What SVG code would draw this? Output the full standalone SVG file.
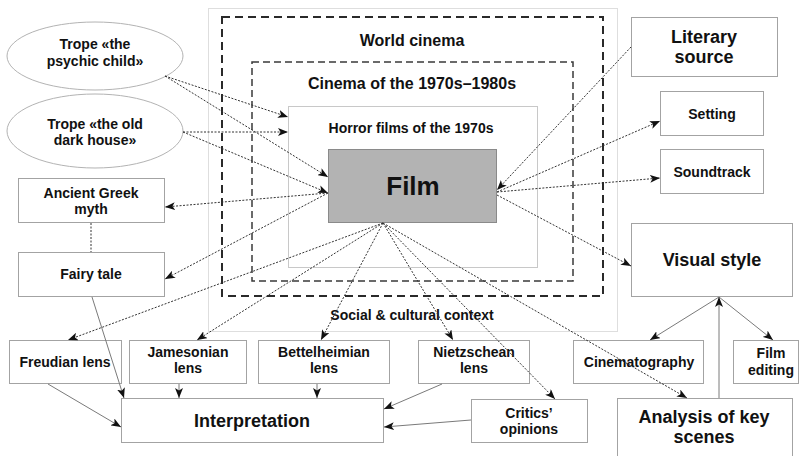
<svg xmlns="http://www.w3.org/2000/svg" width="805" height="456" viewBox="0 0 805 456">
<defs>
<marker id="ah" viewBox="0 0 10 8" refX="10" refY="4" markerWidth="10" markerHeight="8" markerUnits="userSpaceOnUse" orient="auto">
<path d="M0,0 L10,4 L0,8 L2.5,4 z" fill="#111"/>
</marker>
<style>
text{font-family:"Liberation Sans",Arial,sans-serif;font-weight:bold;fill:#111;text-anchor:middle}
.box{fill:#fff;stroke:#a3a3a3;stroke-width:1}
.ell{fill:#fff;stroke:#b3b3b3;stroke-width:1}
.dot{fill:none;stroke:#333;stroke-width:1;stroke-dasharray:2 1.5}
.sol{fill:none;stroke:#7a7a7a;stroke-width:1}
.arr{marker-end:url(#ah)}
.s14{font-size:14px}
.s16{font-size:16px}
.s18{font-size:18px}
</style>
</defs>
<rect width="805" height="456" fill="#fff"/>

<g id="social-context">
<rect x="208.5" y="8.5" width="409" height="323" fill="none" stroke="#bdbdbd" stroke-width="1" stroke-dasharray="1 1"/>
<text class="s14" x="412" y="320">Social &amp; cultural context</text>
</g>
<g id="world-cinema">
<rect x="222" y="17" width="381" height="279" fill="none" stroke="#2a2a2a" stroke-width="2" stroke-dasharray="8 5"/>
<text class="s16" x="412" y="46">World cinema</text>
</g>
<g id="cinema-1970s-1980s">
<rect x="252" y="62" width="321" height="219" fill="none" stroke="#3a3a3a" stroke-width="1.5" stroke-dasharray="7 4"/>
<text class="s16" x="412" y="89">Cinema of the 1970s–1980s</text>
</g>
<g id="horror-1970s">
<rect x="288.5" y="106.5" width="249" height="161" fill="none" stroke="#c8c8c8" stroke-width="1"/>
<text class="s14" x="411" y="133">Horror films of the 1970s</text>
</g>
<g id="film">
<rect x="328.5" y="149.5" width="168" height="73" fill="#b3b3b3" stroke="#8a8a8a" stroke-width="1"/>
<text x="413" y="195" style="font-size:26px">Film</text>
</g>

<g id="trope-psychic-child">
<ellipse class="ell" cx="95" cy="56" rx="88" ry="34"/>
<text class="s14" x="95" y="49">Trope «the</text>
<text class="s14" x="95" y="66">psychic child»</text>
</g>
<g id="trope-old-dark-house">
<ellipse class="ell" cx="95" cy="131" rx="88" ry="37"/>
<text class="s14" x="95" y="129">Trope «the old</text>
<text class="s14" x="95" y="145">dark house»</text>
</g>
<g id="ancient-greek-myth">
<rect class="box" x="18.5" y="178.5" width="146" height="44"/>
<text class="s14" x="91" y="198">Ancient Greek</text>
<text class="s14" x="91" y="214">myth</text>
</g>
<g id="fairy-tale">
<rect class="box" x="18.5" y="252.5" width="146" height="44"/>
<text class="s14" x="91" y="279">Fairy tale</text>
</g>
<g id="literary-source">
<rect class="box" x="631.5" y="17.5" width="146" height="59"/>
<text class="s18" x="704" y="43">Literary</text>
<text class="s18" x="704" y="63">source</text>
</g>
<g id="setting">
<rect class="box" x="660.5" y="91.5" width="103" height="44"/>
<text class="s14" x="712" y="119">Setting</text>
</g>
<g id="soundtrack">
<rect class="box" x="660.5" y="149.5" width="103" height="44"/>
<text class="s14" x="712" y="177">Soundtrack</text>
</g>
<g id="visual-style">
<rect class="box" x="631.5" y="223.5" width="161" height="73"/>
<text class="s18" x="712" y="266">Visual style</text>
</g>
<g id="cinematography">
<rect class="box" x="573.5" y="340.5" width="130" height="43"/>
<text class="s14" x="639" y="367">Cinematography</text>
</g>
<g id="film-editing">
<rect class="box" x="733.5" y="340.5" width="65" height="43"/>
<text class="s14" x="771" y="358">Film</text>
<text class="s14" x="771" y="375">editing</text>
</g>
<g id="analysis-key-scenes">
<rect class="box" x="617.5" y="398.5" width="175" height="70"/>
<text class="s18" x="704" y="423">Analysis of key</text>
<text class="s18" x="704" y="443">scenes</text>
</g>
<g id="freudian-lens">
<rect class="box" x="9.5" y="340.5" width="112" height="43"/>
<text class="s14" x="65" y="367">Freudian lens</text>
</g>
<g id="jamesonian-lens">
<rect class="box" x="129.5" y="340.5" width="117" height="43"/>
<text class="s14" x="188" y="357">Jamesonian</text>
<text class="s14" x="188" y="373">lens</text>
</g>
<g id="bettelheimian-lens">
<rect class="box" x="258.5" y="340.5" width="131" height="43"/>
<text class="s14" x="324" y="357">Bettelheimian</text>
<text class="s14" x="324" y="373">lens</text>
</g>
<g id="nietzschean-lens">
<rect class="box" x="418.5" y="340.5" width="111" height="43"/>
<text class="s14" x="474" y="357">Nietzschean</text>
<text class="s14" x="474" y="373">lens</text>
</g>
<g id="interpretation">
<rect class="box" x="121.5" y="398.5" width="262" height="44"/>
<text class="s18" x="252" y="427">Interpretation</text>
</g>
<g id="critics-opinions">
<rect class="box" x="471.5" y="399.5" width="116" height="43"/>
<text class="s14" x="529" y="418">Critics’</text>
<text class="s14" x="529" y="434">opinions</text>
</g>

<g id="connectors">
<line class="dot arr" x1="165" y1="76" x2="288" y2="117"/>
<line class="dot arr" x1="165" y1="76" x2="328" y2="177"/>
<line class="dot arr" x1="183" y1="132" x2="288" y2="132"/>
<line class="dot arr" x1="183" y1="132" x2="328" y2="193"/>
<line class="dot arr" x1="328" y1="193" x2="165" y2="207"/>
<line class="dot arr" x1="328" y1="193" x2="165" y2="279"/>
<line class="dot" x1="91" y1="223" x2="91" y2="252"/>
<line class="dot arr" x1="383" y1="223" x2="68" y2="340"/>
<line class="dot arr" x1="383" y1="223" x2="197" y2="340"/>
<line class="dot arr" x1="383" y1="223" x2="321" y2="340"/>
<line class="dot arr" x1="383" y1="223" x2="453" y2="340"/>
<line class="dot arr" x1="383" y1="223" x2="555" y2="399"/>
<line class="dot arr" x1="383" y1="223" x2="687" y2="398"/>
<line class="dot arr" x1="631" y1="47" x2="497" y2="190"/>
<line class="dot arr" x1="497" y1="192" x2="660" y2="121"/>
<line class="dot arr" x1="497" y1="192" x2="660" y2="178"/>
<line class="dot arr" x1="497" y1="195" x2="631" y2="266"/>
<line class="sol arr" x1="92" y1="297" x2="124" y2="398"/>
<line class="sol arr" x1="48" y1="384" x2="121" y2="427"/>
<line class="sol arr" x1="179" y1="384" x2="179" y2="398"/>
<line class="sol arr" x1="317" y1="384" x2="317" y2="398"/>
<line class="sol arr" x1="442" y1="384" x2="384" y2="409"/>
<line class="sol arr" x1="471" y1="420" x2="384" y2="427"/>
<line class="sol arr" x1="719" y1="297" x2="650" y2="340"/>
<line class="sol arr" x1="719" y1="297" x2="773" y2="340"/>
<line class="sol arr" x1="719" y1="398" x2="719" y2="297"/>
</g>
</svg>
